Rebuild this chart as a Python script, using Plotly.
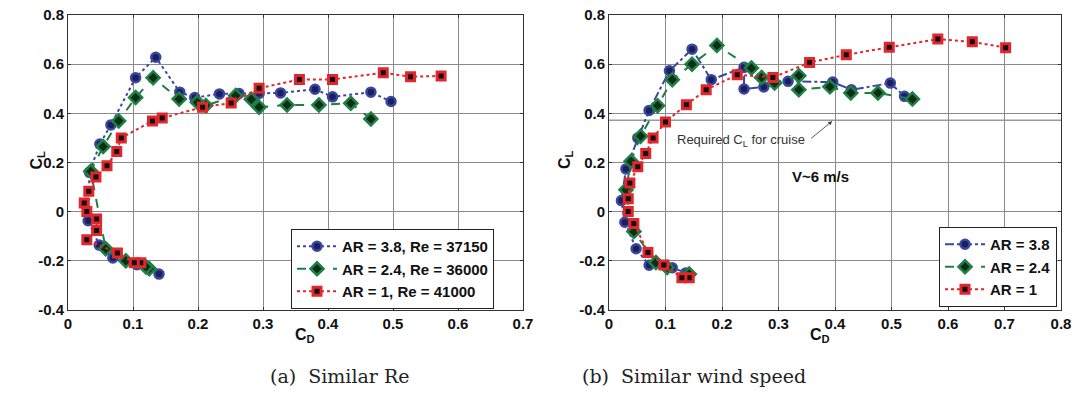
import plotly.graph_objects as go

# ---------------- data ----------------
# (a) Similar Re
a_ar38_cd = [0.140, 0.106, 0.069, 0.048, 0.031, 0.033, 0.049, 0.066, 0.104, 0.135, 0.172, 0.195, 0.233, 0.263, 0.294, 0.327, 0.380, 0.407, 0.466, 0.497]
a_ar38_cl = [-0.254, -0.216, -0.188, -0.136, -0.037, 0.160, 0.275, 0.353, 0.545, 0.628, 0.486, 0.464, 0.479, 0.481, 0.481, 0.483, 0.498, 0.467, 0.486, 0.448]

a_ar24_cd = [0.125, 0.120, 0.089, 0.058, 0.035, 0.054, 0.078, 0.104, 0.131, 0.171, 0.199, 0.212, 0.258, 0.282, 0.294, 0.337, 0.386, 0.435, 0.466]
a_ar24_cl = [-0.232, -0.225, -0.200, -0.151, 0.164, 0.265, 0.369, 0.464, 0.545, 0.458, 0.445, 0.432, 0.472, 0.457, 0.425, 0.434, 0.434, 0.441, 0.377]

a_ar1_cd = [0.112, 0.102, 0.076, 0.029, 0.044, 0.044, 0.029, 0.025, 0.032, 0.043, 0.060, 0.075, 0.082, 0.130, 0.145, 0.207, 0.251, 0.294, 0.356, 0.407, 0.485, 0.527, 0.574]
a_ar1_cl = [-0.208, -0.208, -0.168, -0.114, -0.077, -0.030, 0.001, 0.035, 0.083, 0.141, 0.187, 0.245, 0.300, 0.369, 0.381, 0.425, 0.442, 0.502, 0.538, 0.538, 0.565, 0.549, 0.552]

# (b) Similar wind speed
b_ar38_cd = [0.136, 0.112, 0.071, 0.048, 0.028, 0.022, 0.030, 0.051, 0.071, 0.107, 0.147, 0.181, 0.239, 0.239, 0.274, 0.317, 0.396, 0.429, 0.498, 0.523]
b_ar38_cl = [-0.249, -0.228, -0.218, -0.151, -0.043, 0.045, 0.174, 0.300, 0.412, 0.573, 0.661, 0.537, 0.587, 0.499, 0.507, 0.530, 0.527, 0.496, 0.523, 0.469]

b_ar24_cd = [0.142, 0.103, 0.083, 0.044, 0.030, 0.039, 0.056, 0.086, 0.112, 0.147, 0.191, 0.252, 0.270, 0.293, 0.336, 0.336, 0.391, 0.428, 0.476, 0.537]
b_ar24_cl = [-0.254, -0.227, -0.207, -0.081, 0.089, 0.205, 0.307, 0.431, 0.537, 0.600, 0.676, 0.584, 0.546, 0.523, 0.553, 0.496, 0.508, 0.483, 0.483, 0.458]

b_ar1_cd = [0.142, 0.129, 0.097, 0.069, 0.044, 0.034, 0.034, 0.037, 0.051, 0.065, 0.078, 0.100, 0.137, 0.172, 0.227, 0.290, 0.355, 0.420, 0.496, 0.582, 0.643, 0.702]
b_ar1_cl = [-0.269, -0.269, -0.217, -0.166, -0.048, 0.001, 0.053, 0.117, 0.183, 0.237, 0.300, 0.365, 0.435, 0.496, 0.557, 0.546, 0.607, 0.638, 0.669, 0.702, 0.691, 0.667]

a_names = ["AR = 3.8, Re = 37150", "AR = 2.4, Re = 36000", "AR = 1, Re = 41000"]
b_names = ["AR = 3.8", "AR = 2.4", "AR = 1"]

y_ticks = [-0.4, -0.2, 0, 0.2, 0.4, 0.6, 0.8]
y_ticktext = ["-0.4", "-0.2", "0", "0.2", "0.4", "0.6", "0.8"]
a_x_ticks = [0, 0.1, 0.2, 0.3, 0.4, 0.5, 0.6, 0.7]
a_x_ticktext = ["0", "0.1", "0.2", "0.3", "0.4", "0.5", "0.6", "0.7"]
b_x_ticks = [0, 0.1, 0.2, 0.3, 0.4, 0.5, 0.6, 0.7, 0.8]
b_x_ticktext = ["0", "0.1", "0.2", "0.3", "0.4", "0.5", "0.6", "0.7", "0.8"]

cl_required = 0.372
arrow_head = (0.395, 0.368)
arrow_tail = (0.355, 0.293)

# ---------------- styles ----------------
W, H = 1076, 407
BLUE, BLUE_FACE = "#3a47a0", "#1b1f5a"
GREEN, GREEN_FACE = "#1f7f45", "#0c2e16"
RED, RED_FACE = "#e2262c", "#111111"
SANS = "Liberation Sans, Arial, Helvetica, sans-serif"

def px(x):
    return x / W

def py(y):
    return 1 - y / H

fig = go.Figure()

def add_series(xs, ys, name, color, face, symbol, size, lw_marker, dash, xa, ya, legend):
    fig.add_trace(go.Scatter(
        x=xs, y=ys, name=name, mode="lines+markers",
        line=dict(color=color, width=2, dash=dash),
        marker=dict(symbol=symbol, size=size, color=face,
                    line=dict(color=color, width=lw_marker)),
        xaxis=xa, yaxis=ya, legend=legend,
    ))

add_series(a_ar38_cd, a_ar38_cl, a_names[0], BLUE, BLUE_FACE, "circle", 9, 2.5, "dot", "x", "y", "legend")
add_series(a_ar24_cd, a_ar24_cl, a_names[1], GREEN, GREEN_FACE, "diamond", 10, 2.5, "dash", "x", "y", "legend")
add_series(a_ar1_cd, a_ar1_cl, a_names[2], RED, RED_FACE, "square", 8, 3, "dot", "x", "y", "legend")

add_series(b_ar38_cd, b_ar38_cl, b_names[0], BLUE, BLUE_FACE, "circle", 9, 2.5, "dashdot", "x2", "y2", "legend2")
add_series(b_ar24_cd, b_ar24_cl, b_names[1], GREEN, GREEN_FACE, "diamond", 10, 2.5, "dash", "x2", "y2", "legend2")
add_series(b_ar1_cd, b_ar1_cl, b_names[2], RED, RED_FACE, "square", 8, 3, "dot", "x2", "y2", "legend2")

axis_common = dict(
    showgrid=True, gridcolor="#8a8a8a", gridwidth=1,
    zeroline=False, showline=True, linecolor="#333333", linewidth=1,
    mirror="ticks", ticks="inside", ticklen=3, tickcolor="#333333",
    tickfont=dict(family=SANS, size=15, color="#111111", weight="bold"),
    automargin=False, fixedrange=True,
)

x1_dom = [px(68), px(523)]
x2_dom = [px(609), px(1061)]
y_dom = [py(310), py(15)]

fig.update_layout(
    width=W, height=H,
    margin=dict(l=0, r=0, t=0, b=0),
    paper_bgcolor="white", plot_bgcolor="white",
    xaxis=dict(domain=x1_dom, range=[0, 0.7], tickvals=a_x_ticks, ticktext=a_x_ticktext, anchor="y", **axis_common),
    yaxis=dict(domain=y_dom, range=[-0.4, 0.8], tickvals=y_ticks, ticktext=y_ticktext, anchor="x", **axis_common),
    xaxis2=dict(domain=x2_dom, range=[0, 0.8], tickvals=b_x_ticks, ticktext=b_x_ticktext, anchor="y2", **axis_common),
    yaxis2=dict(domain=y_dom, range=[-0.4, 0.8], tickvals=y_ticks, ticktext=y_ticktext, anchor="x2", **axis_common),
    legend=dict(
        x=px(494), y=py(309), xanchor="right", yanchor="bottom",
        bgcolor="white", bordercolor="#222222", borderwidth=1,
        font=dict(family=SANS, size=15, color="#111111", weight="bold"),
        itemwidth=40, tracegroupgap=0,
    ),
    legend2=dict(
        x=px(1057), y=py(307), xanchor="right", yanchor="bottom",
        bgcolor="white", bordercolor="#222222", borderwidth=1,
        font=dict(family=SANS, size=15, color="#111111", weight="bold"),
        itemwidth=40, tracegroupgap=0,
    ),
    showlegend=True,
)

# required C_L line (right panel)
fig.add_shape(type="line", xref="x2", yref="y2", x0=0, x1=0.8, y0=cl_required, y1=cl_required,
              line=dict(color="#9a9a9a", width=1.5), layer="below")

annotations = []
# axis titles
title_font = dict(family=SANS, size=16, color="#111111", weight="bold")
annotations.append(dict(text="C<sub>L</sub>", x=px(26), y=py(160), xref="paper", yref="paper",
                        showarrow=False, textangle=-90, font=title_font))
annotations.append(dict(text="C<sub>L</sub>", x=px(566), y=py(160), xref="paper", yref="paper",
                        showarrow=False, textangle=-90, font=title_font))
annotations.append(dict(text="C<sub>D</sub>", x=px(293), y=py(347), xref="paper", yref="paper",
                        showarrow=False, font=title_font))
annotations.append(dict(text="C<sub>D</sub>", x=px(832), y=py(347), xref="paper", yref="paper",
                        showarrow=False, font=title_font))
# in-plot texts
annotations.append(dict(text="Required C<sub>L</sub> for cruise", x=0.233, y=0.29, xref="x2", yref="y2",
                        showarrow=False, font=dict(family=SANS, size=13, color="#333333")))
annotations.append(dict(text="", x=arrow_head[0], y=arrow_head[1], ax=arrow_tail[0], ay=arrow_tail[1],
                        xref="x2", yref="y2", axref="x2", ayref="y2",
                        showarrow=True, arrowhead=2, arrowsize=1, arrowwidth=0.8, arrowcolor="#333333"))
annotations.append(dict(text="V~6 m/s", x=0.375, y=0.143, xref="x2", yref="y2",
                        showarrow=False, font=dict(family=SANS, size=15, color="#111111", weight="bold")))
# captions
cap_font = dict(family="DejaVu Serif, Liberation Serif, serif", size=19, color="#222222")
annotations.append(dict(text="(a)  Similar Re", x=px(268), y=py(389), xref="paper", yref="paper",
                        showarrow=False, font=cap_font))
annotations.append(dict(text="(b)  Similar wind speed", x=px(808), y=py(389), xref="paper", yref="paper",
                        showarrow=False, font=cap_font))
fig.update_layout(annotations=annotations)

fig.write_html("out.html", config={"displayModeBar": False},
               post_script="document.body.style.margin='0';document.body.style.overflow='hidden';")
